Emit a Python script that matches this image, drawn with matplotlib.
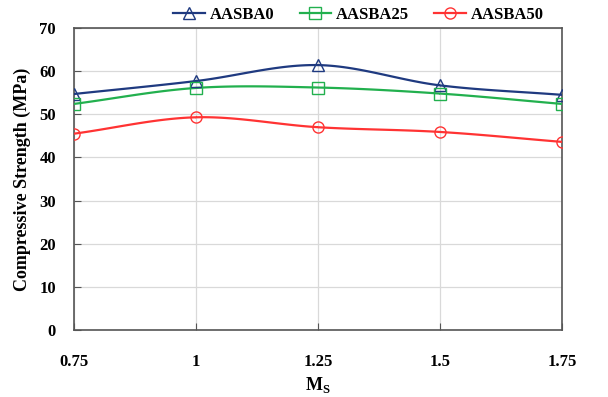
import numpy as np
import matplotlib
matplotlib.use("Agg")
import matplotlib.pyplot as plt

# ── data ───────────────────────────────────────────────────────────────────
ms = [0.75, 1.0, 1.25, 1.5, 1.75]
ms_labels = ["0.75", "1", "1.25", "1.5", "1.75"]
aasba0 = [54.7, 57.7, 61.4, 56.7, 54.5]
aasba25 = [52.4, 56.1, 56.2, 54.8, 52.4]
aasba50 = [45.5, 49.3, 47.0, 45.9, 43.6]
y_ticks = [0, 10, 20, 30, 40, 50, 60, 70]


def smooth(x, y, n=30):
    # Excel-like smoothed line (Catmull-Rom through the data points)
    x = np.asarray(x, float)
    y = np.asarray(y, float)
    px = np.r_[2 * x[0] - x[1], x, 2 * x[-1] - x[-2]]
    py = np.r_[2 * y[0] - y[1], y, 2 * y[-1] - y[-2]]
    xs, ys = [], []
    t = np.linspace(0, 1, n)
    for i in range(1, len(px) - 2):
        for p, out in ((px, xs), (py, ys)):
            p0, p1, p2, p3 = p[i - 1], p[i], p[i + 1], p[i + 2]
            out.append(0.5 * (2 * p1 + (-p0 + p2) * t
                              + (2 * p0 - 5 * p1 + 4 * p2 - p3) * t ** 2
                              + (-p0 + 3 * p1 - 3 * p2 + p3) * t ** 3))
    return np.concatenate(xs), np.concatenate(ys)


plt.rcParams["font.family"] = ["Liberation Serif", "DejaVu Serif"]
plt.rcParams["font.weight"] = "bold"

fig = plt.figure(figsize=(6.08, 3.97), dpi=100)
ax = fig.add_axes([0.1217, 0.1688, 0.8026, 0.7607])

series = [
    ("AASBA0", aasba0, "#1f3a80", "^"),
    ("AASBA25", aasba25, "#22b04e", "s"),
    ("AASBA50", aasba50, "#ff3333", "o"),
]
for name, vals, col, mk in series:
    sx, sy = smooth(ms, vals)
    ax.plot(sx, sy, color=col, lw=1.6, zorder=3)
    ax.plot(ms, vals, ls="none", marker=mk, ms=8, mfc="none", mec=col,
            mew=1.0, zorder=4)
    ax.plot([], [], color=col, lw=1.6, marker=mk, ms=8, mfc="none",
            mec=col, mew=1.0, label=name)

ax.set_xlim(0.75, 1.75)
ax.set_ylim(0, 70)
ax.set_xticks(ms)
ax.set_xticklabels(ms_labels)
ax.set_yticks(y_ticks)
ax.grid(True, color="#d9d9d9", lw=0.9)
ax.set_axisbelow(True)
for s in ax.spines.values():
    s.set_color("#555555")
    s.set_linewidth(1.2)
ax.tick_params(direction="in", length=5, color="#555555", labelsize=12)
ax.tick_params(axis="x", pad=17)
ax.tick_params(axis="y", pad=13)

ax.set_ylabel("Compressive Strength (MPa)", fontsize=13, fontweight="bold",
              labelpad=6)
ax.set_xlabel(r"M$_\mathregular{S}$", fontsize=13, fontweight="bold",
              labelpad=4)

fig.legend(loc="center", bbox_to_anchor=(0.59, 0.962), ncol=3, frameon=False,
           fontsize=12, handlelength=1.9, columnspacing=1.5,
           handletextpad=0.3)

fig.savefig("out.png", dpi=100)
